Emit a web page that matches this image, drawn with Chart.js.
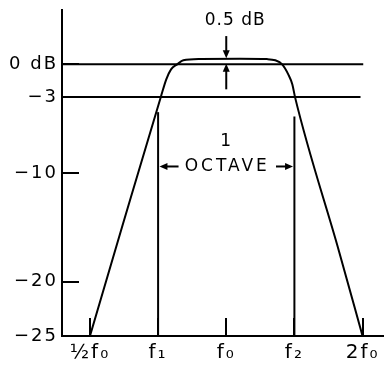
<!DOCTYPE html>
<html>
<head>
<meta charset="utf-8">
<script src="https://cdn.jsdelivr.net/npm/chart.js@4/dist/chart.umd.min.js"></script>
<style>
  html, body { margin: 0; padding: 0; background: #fff; }
</style>
</head>
<body>
<canvas id="c" width="386" height="374"></canvas>
<script>
// octave-spaced frequency axis: 0 = f0/2, 2 = f0, 4 = 2f0
const freqTicks = [0, 1, 2, 3, 4];
const freqLabels = ['½f₀', 'f₁', 'f₀', 'f₂', '2f₀'];
const dbTicks = [0, -3, -10, -20, -25];
const dbLabels = ['0 dB', '−3', '−10', '−20', '−25'];

// filter response
const respFreq = [0, 0.47, 1.04, 1.12, 1.19, 1.28, 1.37, 1.62, 2.2, 2.6, 2.72, 2.82, 2.91, 2.97, 3.01, 3.65, 4.0];
const respDb = [-25, -15.0, -3.0, -1.38, -0.46, 0, 0.37, 0.5, 0.52, 0.48, 0.37, 0, -0.92, -1.85, -3.04, -17.1, -25];

// reference levels (0 dB and -3 dB) and where they stop
const refDb = [0, -3];
const refEnd = [4.01, 3.97];

// band edges f1, f2 marked with vertical lines
const edgeFreq = [1, 3];
const edgeTop = [-4.4, -4.8];

const xMin = -0.41, xMax = 4.3;
const yMin = -25, yMax = 5;

const FONT = '"DejaVu Sans", sans-serif';

function arrow(ctx, x1, y1, x2, y2) {
  const a = Math.atan2(y2 - y1, x2 - x1);
  const len = 8, w = 3.5;
  ctx.beginPath();
  ctx.moveTo(x1, y1);
  ctx.lineTo(x2 - Math.cos(a) * len * 0.8, y2 - Math.sin(a) * len * 0.8);
  ctx.stroke();
  ctx.beginPath();
  ctx.moveTo(x2, y2);
  ctx.lineTo(x2 - Math.cos(a) * len - Math.sin(a) * w, y2 - Math.sin(a) * len + Math.cos(a) * w);
  ctx.lineTo(x2 - Math.cos(a) * len + Math.sin(a) * w, y2 - Math.sin(a) * len - Math.cos(a) * w);
  ctx.closePath();
  ctx.fill();
}

// no label overhang padding, so the plot box sits where the drawing has it
function noPad(s) {
  s.paddingLeft = s.paddingRight = s.paddingTop = s.paddingBottom = 0;
}

const spacing = {
  id: 'spacing',
  beforeDraw(chart) { chart.ctx.letterSpacing = '2px'; }
};

const notes = {
  id: 'notes',
  afterDatasetsDraw(chart) {
    const ctx = chart.ctx;
    const x = v => chart.scales.x.getPixelForValue(v);
    const y = v => chart.scales.y.getPixelForValue(v);
    ctx.save();
    ctx.fillStyle = '#000';
    ctx.strokeStyle = '#000';
    ctx.lineWidth = 2;
    ctx.textAlign = 'center';
    ctx.textBaseline = 'middle';

    // 0.5 dB ripple marker
    const cx = x(2);
    ctx.font = '17px ' + FONT;
    ctx.letterSpacing = '1px';
    ctx.fillText('0.5 dB', cx + 9, y(4.05));
    arrow(ctx, cx, y(2.6), cx, y(0.55));
    arrow(ctx, cx, y(-2.3), cx, y(0.05));

    // 1 octave span between f1 and f2
    ctx.fillText('1', cx, y(-7.1));
    ctx.letterSpacing = '3px';
    ctx.fillText('OCTAVE', cx + 1, y(-9.4));
    arrow(ctx, x(1.3), y(-9.4), x(1.02), y(-9.4));
    arrow(ctx, x(2.73), y(-9.4), x(2.98), y(-9.4));
    ctx.restore();
  }
};

const line = (data, extra) => Object.assign({
  data,
  borderColor: '#000',
  borderWidth: 2,
  pointRadius: 0,
  fill: false
}, extra || {});

const datasets = [
  line(respFreq.map((f, i) => ({ x: f, y: respDb[i] })), { cubicInterpolationMode: 'monotone' })
];
refDb.forEach((d, i) => datasets.push(line([{ x: xMin, y: d }, { x: refEnd[i], y: d }])));
edgeFreq.forEach((f, i) => datasets.push(line([{ x: f, y: yMin }, { x: f, y: edgeTop[i] }])));

new Chart(document.getElementById('c'), {
  type: 'line',
  data: { datasets },
  options: {
    responsive: false,
    animation: false,
    devicePixelRatio: 1,
    layout: { padding: { top: 10, right: 3, left: 0, bottom: 0 } },
    plugins: { legend: { display: false }, tooltip: { enabled: false } },
    scales: {
      x: {
        type: 'linear',
        min: xMin,
        max: xMax,
        afterBuildTicks: s => { s.ticks = freqTicks.map(v => ({ value: v })); },
        afterFit: s => { s.height = 38; noPad(s); },
        ticks: {
          callback: v => freqLabels[freqTicks.indexOf(v)],
          font: { family: FONT, size: 20 },
          color: '#000',
          padding: 23,
          maxRotation: 0,
          autoSkip: false
        },
        grid: { drawOnChartArea: false, drawTicks: true, tickLength: -18, lineWidth: 2, color: '#000' },
        border: { display: true, width: 2, color: '#000' }
      },
      y: {
        type: 'linear',
        min: yMin,
        max: yMax,
        afterBuildTicks: s => { s.ticks = dbTicks.slice().sort((a, b) => a - b).map(v => ({ value: v })); },
        afterFit: s => { s.width = 62; noPad(s); },
        ticks: {
          callback: v => dbLabels[dbTicks.indexOf(v)],
          font: { family: FONT, size: 18 },
          color: '#000',
          padding: 21,
          autoSkip: false
        },
        grid: { drawOnChartArea: false, drawTicks: true, tickLength: -17, lineWidth: 2, color: '#000' },
        border: { display: true, width: 2, color: '#000' }
      }
    }
  },
  plugins: [spacing, notes]
});
</script>
</body>
</html>
